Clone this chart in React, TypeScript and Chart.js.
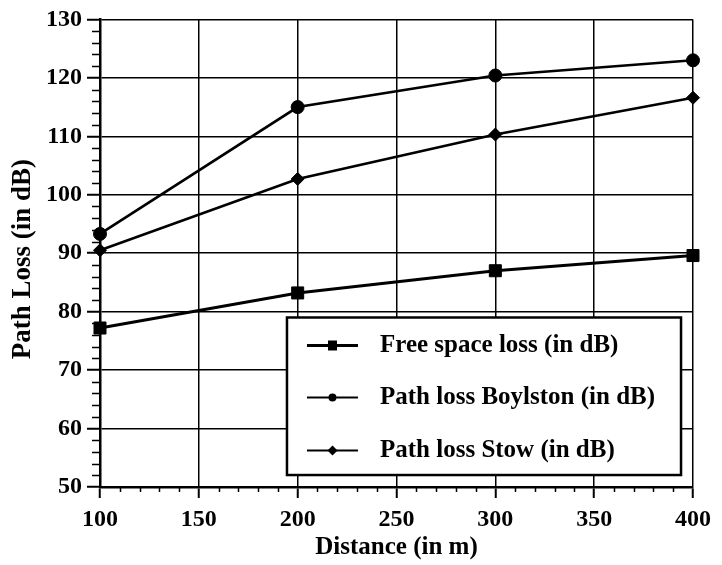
import React, { useEffect, useRef } from "react";
import { Chart, registerables } from "chart.js";

Chart.register(...registerables);

const distances = [100, 200, 300, 400];
const freeSpaceLoss = [77.2, 83.2, 87.0, 89.6];
const boylstonLoss = [93.3, 115.0, 120.4, 123.0];
const stowLoss = [90.5, 102.7, 110.3, 116.6];
const seriesLabels = [
  "Free space loss (in dB)",
  "Path loss Boylston (in dB)",
  "Path loss Stow (in dB)",
];
const xTitle = "Distance (in m)";
const yTitle = "Path Loss (in dB)";

const FONT = "'Liberation Serif', 'Times New Roman', serif";

const minorTicksPlugin = {
  id: "minorTicks",
  afterDraw(chart: any) {
    const { ctx, chartArea } = chart;
    const x = chart.scales.x;
    const y = chart.scales.y;
    ctx.save();
    ctx.strokeStyle = "#000";
    ctx.lineWidth = 1.5;
    ctx.beginPath();
    for (let v = y.min; v <= y.max; v += 2) {
      if (v % 10 === 0) continue;
      const py = Math.round(y.getPixelForValue(v)) + 0.5;
      ctx.moveTo(chartArea.left - 8, py);
      ctx.lineTo(chartArea.left, py);
    }
    for (let v = x.min; v <= x.max; v += 10) {
      if (v % 50 === 0) continue;
      const px = Math.round(x.getPixelForValue(v)) + 0.5;
      ctx.moveTo(px, chartArea.bottom);
      ctx.lineTo(px, chartArea.bottom + 5);
    }
    ctx.stroke();
    // y axis title
    ctx.save();
    ctx.translate(23, (chartArea.top + chartArea.bottom) / 2 + 6);
    ctx.rotate(-Math.PI / 2);
    ctx.fillStyle = "#000";
    ctx.font = `bold 27px ${FONT}`;
    ctx.textAlign = "center";
    ctx.textBaseline = "middle";
    ctx.fillText(yTitle, 0, 0);
    ctx.restore();
    ctx.restore();
  },
};

const legendBoxPlugin = {
  id: "legendBox",
  afterDatasetsDraw(chart: any) {
    const { ctx, chartArea } = chart;
    const w = chartArea.right - chartArea.left;
    const h = chartArea.bottom - chartArea.top;
    const left = chartArea.left + 0.3153 * w;
    const right = chartArea.left + 0.9798 * w;
    const top = chartArea.top + 0.6375 * h;
    const bottom = chartArea.top + 0.9744 * h;
    ctx.save();
    ctx.fillStyle = "#fff";
    ctx.fillRect(left, top, right - left, bottom - top);
    ctx.strokeStyle = "#000";
    ctx.lineWidth = 2.5;
    ctx.strokeRect(left, top, right - left, bottom - top);
    const rowY = [top + 28, top + 80, top + 133];
    const styles = ["rect", "circle", "rectRot"];
    const lw = [2.8, 1.8, 1.8];
    chart.data.datasets.forEach((ds: any, i: number) => {
      const cy = rowY[i];
      const x0 = left + 20;
      const x1 = left + 71;
      const cx = (x0 + x1) / 2;
      ctx.strokeStyle = "#000";
      ctx.fillStyle = "#000";
      ctx.lineWidth = lw[i];
      ctx.beginPath();
      ctx.moveTo(x0, cy);
      ctx.lineTo(x1, cy);
      ctx.stroke();
      ctx.beginPath();
      if (styles[i] === "rect") {
        ctx.rect(cx - 4.5, cy - 5, 9, 10);
      } else if (styles[i] === "circle") {
        ctx.arc(cx, cy, 4, 0, Math.PI * 2);
      } else {
        ctx.moveTo(cx, cy - 5);
        ctx.lineTo(cx + 5, cy);
        ctx.lineTo(cx, cy + 5);
        ctx.lineTo(cx - 5, cy);
        ctx.closePath();
      }
      ctx.fill();
      ctx.font = `bold 25px ${FONT}`;
      ctx.textBaseline = "middle";
      ctx.textAlign = "left";
      ctx.fillText(ds.label, left + 93, cy);
    });
    ctx.restore();
  },
};

export default function App() {
  const canvasRef = useRef<HTMLCanvasElement | null>(null);

  useEffect(() => {
    document.body.style.margin = "0";
    const canvas = canvasRef.current;
    if (!canvas) return;
    const mk = (label: string, values: number[], style: string, r: number, lw: number) => ({
      label,
      data: distances.map((d, i) => ({ x: d, y: values[i] })),
      borderColor: "#000",
      backgroundColor: "#000",
      pointBackgroundColor: "#000",
      pointBorderColor: "#000",
      pointStyle: style,
      pointRadius: r,
      pointBorderWidth: 1,
      borderWidth: lw,
      tension: 0,
      clip: false,
    });
    const chart = new Chart(canvas, {
      type: "line",
      data: {
        datasets: [
          mk(seriesLabels[0], freeSpaceLoss, "rect", 8.5, 3),
          mk(seriesLabels[1], boylstonLoss, "circle", 6.5, 2.6),
          mk(seriesLabels[2], stowLoss, "rectRot", 6.5, 2.6),
        ] as any,
      },
      options: {
        responsive: false,
        animation: false,
        devicePixelRatio: 1,
        layout: { padding: { top: 18, right: 29, bottom: 0, left: 0 } },
        plugins: {
          legend: { display: false },
          tooltip: { enabled: false },
        },
        scales: {
          x: {
            type: "linear",
            min: 100,
            max: 400,
            afterFit: (s: any) => {
              s.height = 78;
            },
            ticks: {
              stepSize: 50,
              color: "#000",
              padding: 7,
              font: { family: FONT, size: 24, weight: "bold" },
            },
            grid: {
              color: "#000",
              lineWidth: 1.5,
              tickLength: 11,
              tickColor: "#000",
              tickWidth: 2,
            },
            border: { display: true, color: "#000", width: 2.5 },
            title: {
              display: true,
              text: xTitle,
              color: "#000",
              font: { family: FONT, size: 25, weight: "bold" },
              padding: { top: 0, bottom: 2 },
            },
          },
          y: {
            type: "linear",
            min: 50,
            max: 130,
            afterFit: (s: any) => {
              s.width = 100;
            },
            ticks: {
              stepSize: 10,
              color: "#000",
              padding: 5,
              font: { family: FONT, size: 24, weight: "bold" },
            },
            grid: {
              color: "#000",
              lineWidth: 1.5,
              tickLength: 13,
              tickColor: "#000",
              tickWidth: 2,
            },
            border: { display: true, color: "#000", width: 2.5 },
            title: { display: false },
          },
        },
      } as any,
      plugins: [minorTicksPlugin, legendBoxPlugin],
    });
    return () => chart.destroy();
  }, []);

  return (
    <div style={{ width: 722, height: 565, background: "#fff" }}>
      <canvas ref={canvasRef} width={722} height={565} style={{ display: "block" }} />
    </div>
  );
}
